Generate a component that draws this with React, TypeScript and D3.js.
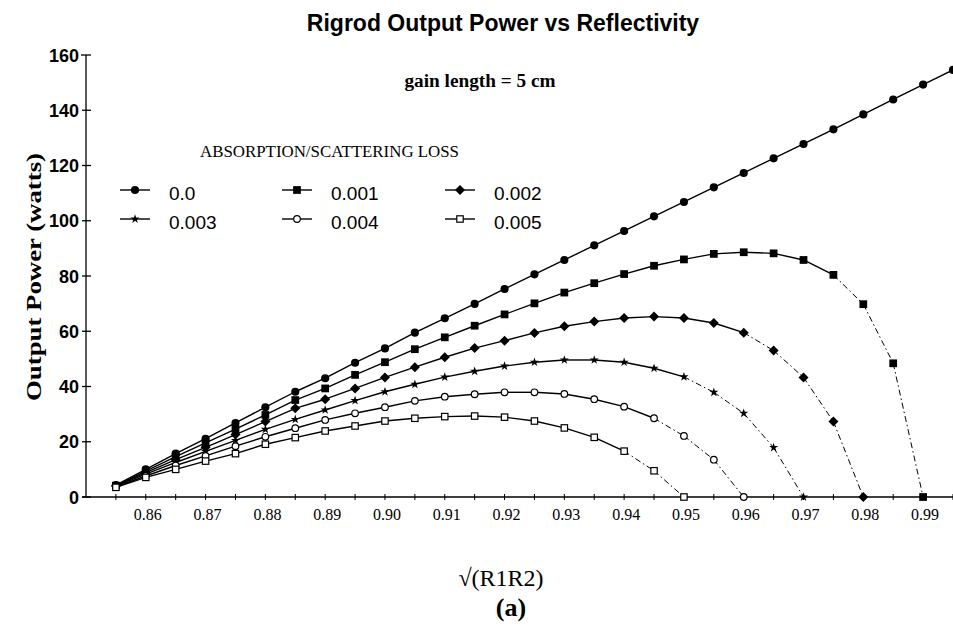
import React from 'react';
import * as d3 from 'd3';

// sqrt(R1R2) sample points
const reflectivity = [
  0.855, 0.86, 0.865, 0.87, 0.875, 0.88, 0.885, 0.89, 0.895, 0.9,
  0.905, 0.91, 0.915, 0.92, 0.925, 0.93, 0.935, 0.94, 0.945, 0.95,
  0.955, 0.96, 0.965, 0.97, 0.975, 0.98, 0.985, 0.99, 0.995,
];

// output power (watts) for each absorption/scattering loss
const loss0 = [4.3, 10.0, 15.7, 21.1, 26.8, 32.5, 38.1, 43.0, 48.6, 53.8, 59.5, 64.7, 69.9, 75.3, 80.6, 85.8, 91.1, 96.3, 101.6, 106.8, 112.1, 117.3, 122.6, 127.8, 133.1, 138.5, 143.9, 149.3, 154.6];
const loss001 = [4.1, 9.4, 14.6, 19.6, 24.6, 29.7, 35.1, 39.3, 44.2, 48.8, 53.5, 57.8, 62.0, 66.1, 70.1, 74.0, 77.4, 80.7, 83.7, 86.0, 88.0, 88.6, 88.2, 85.8, 80.4, 69.8, 48.4, 0];
const loss002 = [4.0, 8.8, 13.5, 18.0, 22.6, 27.3, 32.1, 35.4, 39.3, 43.3, 47.0, 50.6, 53.9, 56.6, 59.4, 61.8, 63.5, 64.8, 65.3, 64.8, 63.0, 59.5, 53.0, 43.3, 27.3, 0];
const loss003 = [3.9, 8.3, 12.5, 16.5, 20.5, 24.5, 28.1, 31.5, 34.9, 38.1, 40.8, 43.4, 45.5, 47.4, 48.8, 49.6, 49.6, 48.8, 46.6, 43.5, 37.9, 30.3, 17.9, 0];
const loss004 = [3.7, 7.6, 11.4, 14.9, 18.4, 21.8, 24.9, 27.9, 30.3, 32.5, 34.8, 36.3, 37.2, 37.9, 37.9, 37.3, 35.4, 32.7, 28.5, 22.1, 13.5, 0];
const loss005 = [3.5, 7.1, 10.0, 13.0, 15.7, 19.1, 21.5, 23.9, 25.7, 27.5, 28.5, 29.1, 29.3, 28.9, 27.5, 25.0, 21.6, 16.6, 9.5, 0];

const lossLabels = ['0.0', '0.001', '0.002', '0.003', '0.004', '0.005'];
const xTicks = [0.86, 0.87, 0.88, 0.89, 0.9, 0.91, 0.92, 0.93, 0.94, 0.95, 0.96, 0.97, 0.98, 0.99];
const yTicks = [0, 20, 40, 60, 80, 100, 120, 140, 160];

const seriesValues = [loss0, loss001, loss002, loss003, loss004, loss005];
const markerTypes = ['circle', 'square', 'diamond', 'star', 'ocircle', 'osquare'];

const W = 953;
const H = 630;
const serif = '"Liberation Serif", "Times New Roman", serif';
const sans = '"Liberation Sans", Arial, sans-serif';

const Marker = ({ type, cx, cy }: { type: string; cx: number; cy: number }) => {
  const t = `translate(${cx},${cy})`;
  if (type === 'circle') return <path transform={t} d={d3.symbol(d3.symbolCircle, 52)()!} fill="#000" />;
  if (type === 'square') return <path transform={t} d={d3.symbol(d3.symbolSquare, 60)()!} fill="#000" />;
  if (type === 'diamond') return <path transform={t} d="M0,-5L5,0L0,5L-5,0Z" fill="#000" />;
  if (type === 'star') return <path transform={t} d={d3.symbol(d3.symbolStar, 26)()!} fill="#000" />;
  if (type === 'ocircle') return <circle cx={cx} cy={cy} r={3.3} fill="#fff" stroke="#000" strokeWidth={1.2} />;
  return <rect x={cx - 3.2} y={cy - 3.2} width={6.4} height={6.4} fill="#fff" stroke="#000" strokeWidth={1.2} />;
};

export default function App() {
  const x = d3.scaleLinear().domain([0.85, 0.995]).range([86, 953]);
  const y = d3.scaleLinear().domain([0, 160]).range([497, 55]);
  const line = d3.line<[number, number]>().x(d => x(d[0])).y(d => y(d[1]));

  const minorTicks = d3.range(0.855, 0.995, 0.005).map(v => Math.round(v * 1000) / 1000);

  const legendCols = [135, 297, 460];
  const legendRows = [190, 219];

  return (
    <svg width={W} height={H} style={{ position: 'absolute', left: 0, top: 0, background: '#fff' }}>
      <rect width={W} height={H} fill="#fff" />

      <text x={503} y={31} textAnchor="middle" fontFamily={sans} fontWeight="bold" fontSize={23}>
        Rigrod Output Power vs Reflectivity
      </text>
      <text x={480} y={87} textAnchor="middle" fontFamily={serif} fontWeight="bold" fontSize={18} textLength={151} lengthAdjust="spacingAndGlyphs">
        gain length = 5 cm
      </text>
      <text x={200} y={157} fontFamily={serif} fontSize={16} textLength={259} lengthAdjust="spacingAndGlyphs">
        ABSORPTION/SCATTERING LOSS
      </text>

      {/* legend */}
      {lossLabels.map((lab, i) => {
        const cx = legendCols[i % 3];
        const cy = legendRows[Math.floor(i / 3)];
        return (
          <g key={lab}>
            <line x1={cx - 15} x2={cx + 15} y1={cy} y2={cy} stroke="#000" strokeWidth={1.4} />
            <Marker type={markerTypes[i]} cx={cx} cy={cy} />
            <text x={cx + 34} y={cy + 10} fontFamily={sans} fontSize={19}>{lab}</text>
          </g>
        );
      })}

      {/* y axis */}
      <line x1={86} x2={86} y1={y(0)} y2={y(160)} stroke="#000" strokeWidth={1.3} />
      {yTicks.map(v => (
        <g key={v}>
          <line x1={v === 160 ? 81 : 82} x2={v === 160 ? 91 : 91} y1={y(v)} y2={y(v)} stroke="#000" strokeWidth={1.3} />
          <text x={79} y={y(v) + 6.5} textAnchor="end" fontFamily={sans} fontWeight="bold" fontSize={18}>{v}</text>
        </g>
      ))}
      <text transform={`translate(41,277) rotate(-90)`} textAnchor="middle" fontFamily={serif} fontWeight="bold" fontSize={21} textLength={248} lengthAdjust="spacingAndGlyphs">
        Output Power (watts)
      </text>

      {/* x axis */}
      <line x1={82} x2={953} y1={y(0)} y2={y(0)} stroke="#000" strokeWidth={1.6} />
      {minorTicks.map(v => (
        <line key={v} x1={x(v)} x2={x(v)} y1={y(0) - 3} y2={y(0) + 3} stroke="#000" strokeWidth={1} />
      ))}
      {xTicks.map(v => (
        <text key={v} x={x(v) + 2} y={520} textAnchor="middle" fontFamily={serif} fontSize={16}>
          {v.toFixed(2)}
        </text>
      ))}
      <text x={501} y={586} textAnchor="middle" fontFamily={serif} fontSize={24}>√(R1R2)</text>
      <text x={511} y={616} textAnchor="middle" fontFamily={serif} fontWeight="bold" fontSize={26}>(a)</text>

      {/* curves */}
      {seriesValues.map((vals, si) => (
        <g key={si}>
          {vals.slice(1).map((v, j) => {
            const p0: [number, number] = [reflectivity[j], vals[j]];
            const p1: [number, number] = [reflectivity[j + 1], v];
            const steep = vals[j] - v > 5.5;
            return (
              <path
                key={j}
                d={line([p0, p1])!}
                fill="none"
                stroke="#000"
                strokeWidth={steep ? 1 : 1.4}
                strokeDasharray={steep ? '6,3,1.5,3' : undefined}
              />
            );
          })}
        </g>
      ))}
      {seriesValues.map((vals, si) => (
        <g key={'m' + si}>
          {vals.map((v, j) => (
            <Marker key={j} type={markerTypes[si]} cx={x(reflectivity[j])} cy={y(v)} />
          ))}
        </g>
      ))}
    </svg>
  );
}
